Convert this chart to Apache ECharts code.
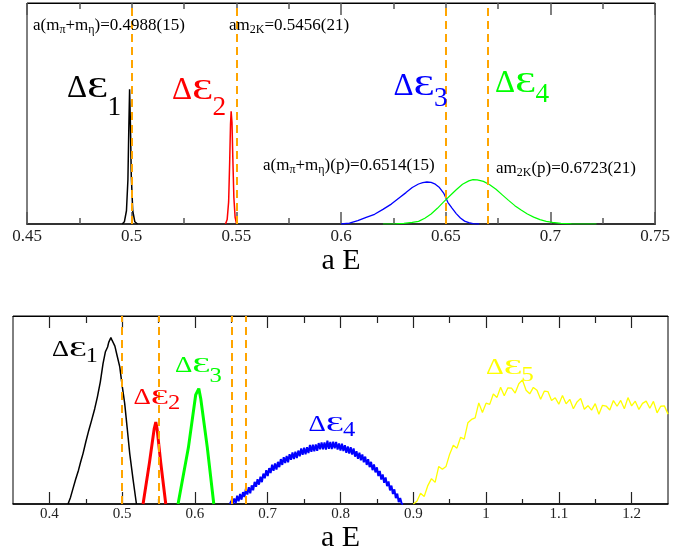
<!DOCTYPE html>
<html>
<head>
<meta charset="utf-8">
<script src="https://cdn.jsdelivr.net/npm/echarts@6/dist/echarts.min.js"></script>
<style>
  html, body { margin: 0; padding: 0; background: #fff; }
  #chart { width: 673px; height: 559px; }
</style>
</head>
<body>
<div id="chart"></div>
<script>
// Two-particle thresholds in lattice units
const thresholds = [0.4988, 0.5456, 0.6514, 0.6723];

// Upper panel: energy-shift distributions, pairs of [aE, weight]
const upperE1 = [[0.4955,0],[0.4965,0.01],[0.4975,0.06],[0.4982,0.2],[0.4986,0.42],[0.4990,0.61],[0.4994,0.45],[0.4998,0.22],[0.5005,0.06],[0.5015,0.01],[0.5028,0]];
const upperE2 = [[0.5448,0],[0.5456,0.02],[0.5463,0.1],[0.5468,0.28],[0.5472,0.45],[0.5475,0.51],[0.5479,0.46],[0.5483,0.3],[0.5488,0.12],[0.5494,0.03],[0.5501,0]];
const upperE3 = [[0.600,0],[0.604,0.004],[0.608,0.015],[0.612,0.03],[0.616,0.044],[0.620,0.066],[0.624,0.09],[0.628,0.12],[0.631,0.142],[0.634,0.165],[0.637,0.181],[0.639,0.187],[0.641,0.19],[0.643,0.188],[0.645,0.18],[0.647,0.165],[0.649,0.14],[0.651,0.098],[0.653,0.072],[0.655,0.047],[0.657,0.027],[0.659,0.013],[0.661,0.006],[0.663,0.002],[0.666,0]];
const upperE4 = [[0.620,0],[0.626,0.001],[0.630,0.003],[0.634,0.007],[0.637,0.012],[0.640,0.026],[0.643,0.045],[0.646,0.071],[0.649,0.1],[0.652,0.128],[0.655,0.155],[0.658,0.18],[0.661,0.195],[0.663,0.201],[0.665,0.2],[0.668,0.193],[0.671,0.178],[0.674,0.157],[0.677,0.132],[0.680,0.107],[0.683,0.083],[0.686,0.063],[0.689,0.045],[0.692,0.031],[0.695,0.02],[0.698,0.012],[0.701,0.007],[0.705,0.003],[0.710,0.001],[0.722,0]];

// Lower panel: energy-shift distributions, pairs of [aE, weight]
const lowerE1 = [[0.4256,0],[0.4290,0.035],[0.4325,0.083],[0.4360,0.13],[0.4400,0.18],[0.4430,0.225],[0.4462,0.268],[0.4500,0.33],[0.4540,0.39],[0.4580,0.445],[0.4623,0.507],[0.4660,0.57],[0.4700,0.65],[0.4737,0.747],[0.4770,0.81],[0.4800,0.835],[0.4815,0.86],[0.4830,0.85],[0.4845,0.885],[0.4852,0.888],[0.4862,0.87],[0.4875,0.875],[0.4900,0.84],[0.4930,0.79],[0.4967,0.729],[0.5000,0.63],[0.5035,0.534],[0.5070,0.40],[0.5104,0.268],[0.5150,0.13],[0.5196,0]];
const lowerE2 = [[0.5287,0],[0.5375,0.22],[0.5440,0.40],[0.5462,0.436],[0.5480,0.40],[0.5530,0.22],[0.5599,0]];
const lowerE3 = [[0.5768,0],[0.5910,0.3],[0.6010,0.58],[0.6053,0.614],[0.6080,0.56],[0.6170,0.3],[0.6259,0]];
const lowerE4 = [[0.648,0],[0.650,0.017],[0.652,0.002],[0.654,0.029],[0.656,0.004],[0.658,0.044],[0.660,0.014],[0.662,0.053],[0.664,0.023],[0.666,0.063],[0.668,0.037],[0.670,0.081],[0.672,0.05],[0.674,0.089],[0.676,0.057],[0.678,0.099],[0.680,0.073],[0.682,0.118],[0.684,0.092],[0.686,0.132],[0.688,0.103],[0.690,0.145],[0.692,0.116],[0.694,0.162],[0.696,0.137],[0.698,0.18],[0.700,0.149],[0.702,0.191],[0.704,0.165],[0.706,0.209],[0.708,0.177],[0.710,0.216],[0.712,0.183],[0.714,0.224],[0.716,0.196],[0.718,0.239],[0.720,0.208],[0.722,0.249],[0.724,0.218],[0.726,0.255],[0.728,0.222],[0.730,0.265],[0.732,0.235],[0.734,0.274],[0.736,0.239],[0.738,0.278],[0.740,0.244],[0.742,0.284],[0.744,0.254],[0.746,0.296],[0.748,0.262],[0.750,0.299],[0.752,0.264],[0.754,0.302],[0.756,0.271],[0.758,0.314],[0.760,0.278],[0.762,0.315],[0.764,0.28],[0.766,0.317],[0.768,0.283],[0.770,0.324],[0.772,0.291],[0.774,0.328],[0.776,0.291],[0.778,0.327],[0.780,0.289],[0.782,0.337],[0.784,0.294],[0.786,0.33],[0.788,0.292],[0.790,0.331],[0.792,0.296],[0.794,0.33],[0.796,0.29],[0.798,0.322],[0.800,0.284],[0.802,0.321],[0.804,0.282],[0.806,0.313],[0.808,0.272],[0.810,0.306],[0.812,0.268],[0.814,0.302],[0.816,0.263],[0.818,0.295],[0.820,0.252],[0.822,0.281],[0.824,0.24],[0.826,0.273],[0.828,0.233],[0.830,0.263],[0.832,0.222],[0.834,0.252],[0.836,0.208],[0.838,0.238],[0.840,0.196],[0.842,0.224],[0.844,0.18],[0.846,0.21],[0.848,0.168],[0.850,0.195],[0.852,0.149],[0.854,0.176],[0.856,0.13],[0.858,0.157],[0.860,0.113],[0.862,0.141],[0.864,0.095],[0.866,0.12],[0.868,0.072],[0.870,0.098],[0.872,0.053],[0.874,0.078],[0.876,0.031],[0.878,0.055],[0.880,0.01],[0.882,0.032],[0.884,0.002],[0.886,0]];
const lowerE5 = [[0.900,0],[0.905,0.015],[0.910,0.057],[0.915,0.04],[0.920,0.098],[0.925,0.135],[0.930,0.115],[0.935,0.2],[0.940,0.185],[0.945,0.2],[0.950,0.265],[0.955,0.313],[0.960,0.297],[0.965,0.355],[0.970,0.345],[0.975,0.432],[0.980,0.45],[0.985,0.458],[0.990,0.538],[0.995,0.487],[1.000,0.536],[1.005,0.53],[1.010,0.585],[1.015,0.567],[1.020,0.621],[1.025,0.576],[1.030,0.618],[1.035,0.616],[1.040,0.59],[1.045,0.64],[1.050,0.66],[1.055,0.605],[1.060,0.586],[1.065,0.62],[1.070,0.605],[1.075,0.557],[1.080,0.6],[1.085,0.598],[1.090,0.551],[1.095,0.565],[1.100,0.531],[1.105,0.577],[1.110,0.533],[1.115,0.557],[1.120,0.507],[1.125,0.543],[1.130,0.562],[1.135,0.504],[1.140,0.523],[1.145,0.499],[1.150,0.534],[1.155,0.477],[1.160,0.525],[1.165,0.521],[1.170,0.5],[1.175,0.55],[1.180,0.52],[1.185,0.551],[1.190,0.507],[1.195,0.566],[1.200,0.522],[1.205,0.547],[1.210,0.503],[1.215,0.535],[1.220,0.547],[1.225,0.509],[1.230,0.546],[1.235,0.485],[1.240,0.52],[1.245,0.522],[1.250,0.478]];

// Lower panel tick positions
const lowerMajorTicks = [0.4, 0.5, 0.6, 0.7, 0.8, 0.9, 1.0, 1.1, 1.2];
const lowerMinorTicks = [0.45, 0.55, 0.65, 0.75, 0.85, 0.95, 1.05, 1.15];

const serif = "'Liberation Serif', 'Times New Roman', 'DejaVu Serif', serif";
const ORANGE = '#ffa500';

const chart = echarts.init(document.getElementById('chart'), null, { renderer: 'canvas' });

const measureCtx = document.createElement('canvas').getContext('2d');
function textWidth(str, size) {
  measureCtx.font = size + 'px ' + serif;
  return measureCtx.measureText(str).width;
}

function lineSeries(data, color, width, xi, yi) {
  return {
    type: 'line', data: data, xAxisIndex: xi, yAxisIndex: yi,
    showSymbol: false, symbol: 'none', smooth: false, silent: true,
    lineStyle: { color: color, width: width }, z: 3
  };
}

function thresholdLines(xi, yi) {
  return {
    type: 'line', data: [], xAxisIndex: xi, yAxisIndex: yi, silent: true,
    markLine: {
      silent: true, symbol: ['none', 'none'], label: { show: false },
      lineStyle: { color: ORANGE, width: 2, type: [8, 5] },
      data: thresholds.map(v => ({ xAxis: v }))
    },
    z: 4
  };
}

// "ΔƐ" with a lowered index; (x, base) is the left end of the baseline
function deltaLabel(x, base, idx, color, size, subSize, drop, totalWidth) {
  const eSize = size * 0.94;
  const eStretch = 1.45;
  const wD = textWidth('Δ', size);
  const wE = textWidth('Ɛ', eSize) * eStretch;
  const wS = textWidth(String(idx), subSize);
  const k = totalWidth / (wD + wE + wS);
  const glyph = (t, fs) => ({ text: t, fontSize: fs, fontFamily: serif, fill: color, align: 'left', verticalAlign: 'middle' });
  return {
    type: 'group', x: x, y: base, scaleX: k, silent: true, z: 10,
    children: [
      { type: 'text', x: 0, y: -0.305 * size, style: glyph('Δ', size), z: 10 },
      { type: 'text', x: wD, y: -0.305 * eSize, scaleX: eStretch, style: glyph('Ɛ', eSize), z: 10 },
      { type: 'text', x: wD + wE - 1, y: drop - 0.305 * subSize, style: glyph(String(idx), subSize), z: 10 }
    ]
  };
}

// Threshold annotation with subscripted masses
function noteLabel(x, y, text) {
  return {
    type: 'text', x: x, y: y, z: 10, silent: true,
    style: {
      text: text, align: 'left', verticalAlign: 'top',
      rich: {
        n: { fontSize: 17, lineHeight: 17, fontFamily: serif, fill: '#000', verticalAlign: 'top' },
        s: { fontSize: 12, lineHeight: 12, fontFamily: serif, fill: '#000', verticalAlign: 'top', padding: [7, 0, 0, 0] }
      }
    }
  };
}

const upperAxisCommon = {
  type: 'value', gridIndex: 0, min: 0.45, max: 0.75, interval: 0.05,
  splitLine: { show: false },
  axisTick: { inside: true, length: 12, lineStyle: { color: '#555', width: 1.5 } },
  minorTick: { show: true, splitNumber: 2, length: 6, lineStyle: { color: '#555', width: 1.5 } }
};

const lowerAxisCommon = {
  type: 'value', min: 0.35, max: 1.25,
  splitLine: { show: false }
};

const option = {
  animation: false,
  backgroundColor: '#fff',
  grid: [
    { left: 27, top: 3, width: 630, height: 221, show: true, borderColor: '#000', borderWidth: 1, backgroundColor: 'transparent' },
    { left: 13, top: 316, width: 655, height: 188, show: true, borderColor: '#000', borderWidth: 1, backgroundColor: 'transparent' },
    { left: 13, top: 316, width: 655, height: 188, show: false }
  ],
  xAxis: [
    Object.assign({}, upperAxisCommon, {
      position: 'bottom',
      axisLine: { show: true, lineStyle: { color: '#333', width: 2 } },
      axisLabel: { fontFamily: serif, fontSize: 17, color: '#222', margin: 4 },
      name: 'a E', nameLocation: 'middle', nameGap: 12,
      nameTextStyle: { fontFamily: serif, fontSize: 30, color: '#000' }
    }),
    Object.assign({}, upperAxisCommon, {
      position: 'top',
      axisLine: { show: true, lineStyle: { color: '#000', width: 1 } },
      axisLabel: { show: false }
    }),
    Object.assign({}, lowerAxisCommon, {
      gridIndex: 1, position: 'bottom',
      axisLine: { show: true, lineStyle: { color: '#000', width: 1.5 } },
      axisTick: { inside: true, length: 12, customValues: lowerMajorTicks, lineStyle: { color: '#222', width: 1.2 } },
      axisLabel: { fontFamily: serif, fontSize: 15, color: '#222', margin: 3, customValues: lowerMajorTicks },
      name: 'a E', nameLocation: 'middle', nameGap: 17,
      nameTextStyle: { fontFamily: serif, fontSize: 30, color: '#000' }
    }),
    Object.assign({}, lowerAxisCommon, {
      gridIndex: 1, position: 'top',
      axisLine: { show: true, lineStyle: { color: '#000', width: 1 } },
      axisTick: { inside: true, length: 12, customValues: lowerMajorTicks, lineStyle: { color: '#222', width: 1.2 } },
      axisLabel: { show: false }
    }),
    Object.assign({}, lowerAxisCommon, {
      gridIndex: 2, position: 'bottom',
      axisLine: { show: false },
      axisTick: { inside: true, length: 5, customValues: lowerMinorTicks, lineStyle: { color: '#222', width: 1.2 } },
      axisLabel: { show: false }
    }),
    Object.assign({}, lowerAxisCommon, {
      gridIndex: 2, position: 'top',
      axisLine: { show: false },
      axisTick: { inside: true, length: 7, customValues: lowerMinorTicks, lineStyle: { color: '#222', width: 1.2 } },
      axisLabel: { show: false }
    })
  ],
  yAxis: [
    { type: 'value', gridIndex: 0, min: 0, max: 1, show: false },
    { type: 'value', gridIndex: 1, min: 0, max: 1, show: false },
    { type: 'value', gridIndex: 2, min: 0, max: 1, show: false }
  ],
  series: [
    thresholdLines(0, 0),
    lineSeries(upperE1, '#000000', 1.5, 0, 0),
    lineSeries(upperE2, '#ff0000', 1.5, 0, 0),
    lineSeries(upperE3, '#0000ff', 1.3, 0, 0),
    lineSeries(upperE4, '#00ff00', 1.2, 0, 0),
    thresholdLines(2, 1),
    lineSeries(lowerE1, '#000000', 1.5, 2, 1),
    lineSeries(lowerE2, '#ff0000', 3, 2, 1),
    lineSeries(lowerE3, '#00ff00', 3, 2, 1),
    lineSeries(lowerE4, '#0000ff', 2, 2, 1),
    lineSeries(lowerE5, '#ffff00', 1.3, 2, 1)
  ],
  graphic: [
    noteLabel(33, 17, '{n|a(m}{s|π}{n|+m}{s|η}{n|)=0.4988(15)}'),
    noteLabel(229, 17, '{n|am}{s|2K}{n|=0.5456(21)}'),
    noteLabel(263, 157, '{n|a(m}{s|π}{n|+m}{s|η}{n|)(p)=0.6514(15)}'),
    noteLabel(496, 160, '{n|am}{s|2K}{n|(p)=0.6723(21)}'),
    deltaLabel(67, 98.3, 1, '#000000', 32, 28, 18, 55),
    deltaLabel(172, 100, 2, '#ff0000', 32, 28, 16.5, 55),
    deltaLabel(393.5, 96.7, 3, '#0000ff', 32, 28, 10, 55),
    deltaLabel(495, 93.3, 4, '#00ff00', 32, 28, 10, 55),
    deltaLabel(52, 356.7, 1, '#000000', 23, 21, 6.3, 47),
    deltaLabel(133.5, 405, 2, '#ff0000', 23, 21, 5, 48),
    deltaLabel(175, 373.3, 3, '#00ff00', 23, 21, 10, 48),
    deltaLabel(308.5, 431.7, 4, '#0000ff', 23, 21, 5, 48),
    deltaLabel(486, 375, 5, '#ffff00', 23, 21, 6.7, 49)
  ]
};

chart.setOption(option);
</script>
</body>
</html>
